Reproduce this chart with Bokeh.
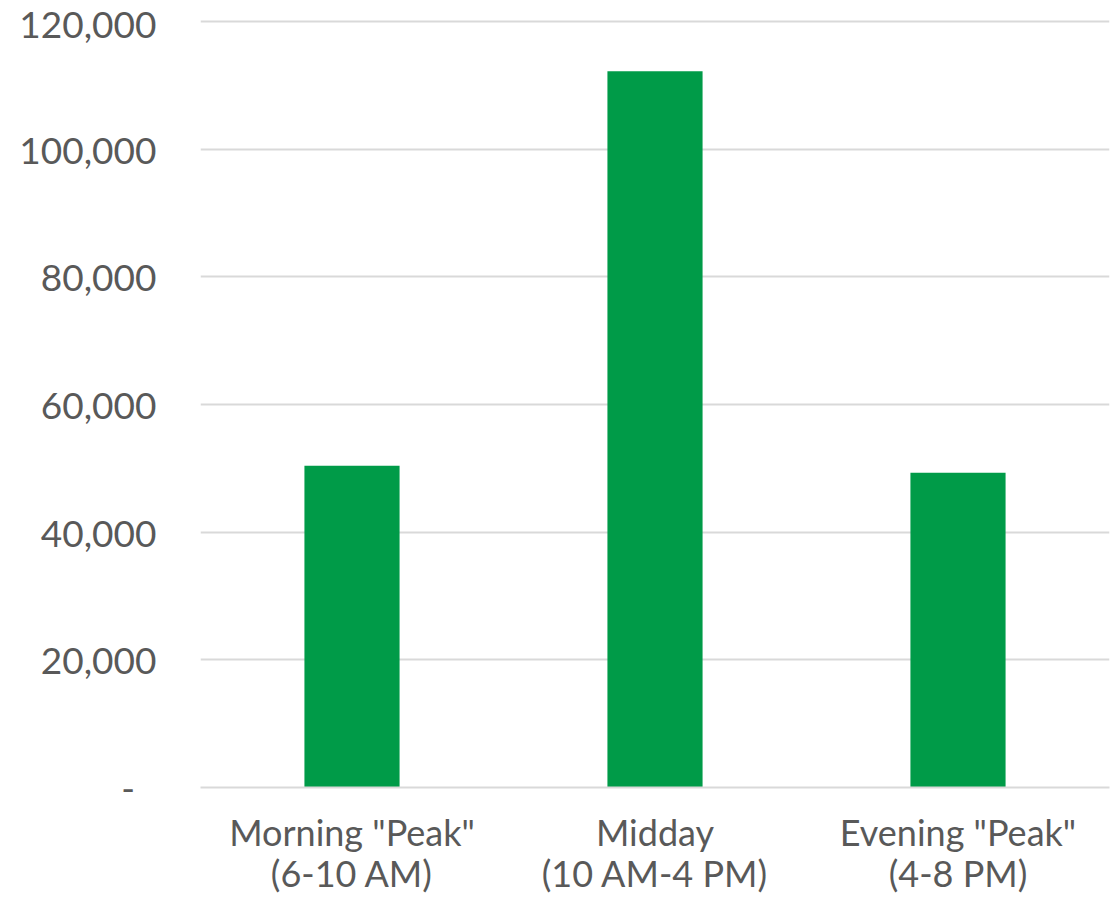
from bokeh.plotting import figure
from bokeh.models import ColumnDataSource, NumeralTickFormatter, FixedTicker, Range1d
from bokeh.embed import file_html
from bokeh.resources import INLINE

categories = ['Morning "Peak"\n(6-10 AM)', 'Midday\n(10 AM-4 PM)', 'Evening "Peak"\n(4-8 PM)']
values = [50400, 112200, 49300]
y_ticks = [0, 20000, 40000, 60000, 80000, 100000, 120000]

FONT = "Lato"
GREY = "#595959"

src = ColumnDataSource(data=dict(cat=categories, val=values))

p = figure(x_range=categories, y_range=Range1d(0, 120300),
           frame_width=909, frame_height=768,
           output_backend="svg", toolbar_location=None,
           min_border_left=200, min_border_right=3, min_border_top=19, min_border_bottom=10)

p.vbar(x="cat", top="val", width=0.314, source=src, color="#009B48", line_color=None)

p.outline_line_color = None
p.xgrid.grid_line_color = None
p.ygrid.grid_line_color = "#D9D9D9"
p.ygrid.grid_line_width = 2

p.yaxis.ticker = FixedTicker(ticks=y_ticks)
p.yaxis.formatter = NumeralTickFormatter(format="0,0")
p.yaxis.major_label_overrides = {0: "-\u2007"}
p.yaxis.axis_line_color = None
p.yaxis.major_tick_line_color = None
p.yaxis.minor_tick_line_color = None
p.yaxis.major_label_text_font = FONT
p.yaxis.major_label_text_font_size = "37px"
p.yaxis.major_label_text_color = GREY
p.yaxis.major_label_standoff = 38

p.xaxis.axis_line_color = "#D9D9D9"
p.xaxis.axis_line_width = 2
p.xaxis.major_tick_line_color = None
p.xaxis.minor_tick_line_color = None
p.xaxis.major_label_text_font = FONT
p.xaxis.major_label_text_font_size = "36px"
p.xaxis.major_label_text_line_height = 0.95
p.xaxis.major_label_text_color = GREY
p.xaxis.major_label_standoff = 16

open("out.html", "w").write(file_html(p, INLINE))
